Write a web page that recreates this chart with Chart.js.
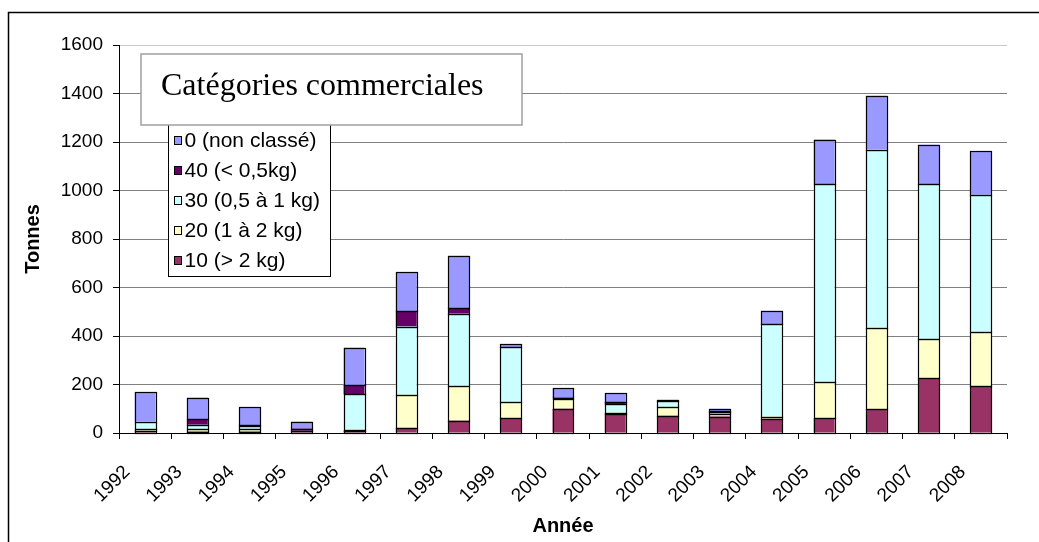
<!DOCTYPE html>
<html><head><meta charset="utf-8">
<script src="https://cdn.jsdelivr.net/npm/chart.js@4/dist/chart.umd.min.js"></script>
<style>html,body{margin:0;padding:0;background:#fff}canvas{display:block}</style>
</head><body>
<canvas id="c" width="1039" height="542"></canvas>
<script>
const years = ['1992','1993','1994','1995','1996','1997','1998','1999','2000','2001','2002','2003','2004','2005','2006','2007','2008'];
const cat10 = [7, 6, 6, 7, 8, 21, 51, 62, 100, 78, 71, 68, 58, 62, 99, 226, 192];
const cat20 = [10, 9, 10, 1, 6, 137, 144, 64, 39, 6, 36, 10, 10, 149, 336, 162, 226];
const cat30 = [30, 19, 14, 1, 146, 281, 297, 228, 5, 35, 27, 9, 380, 814, 734, 637, 564];
const cat40 = [0, 22, 1, 9, 38, 64, 22, 0, 2, 9, 1, 2, 0, 0, 0, 0, 0];
const cat0  = [122, 90, 75, 29, 154, 159, 217, 11, 38, 36, 2, 11, 56, 185, 222, 164, 181];
const seriesLabels = ['10 (> 2 kg)', '20 (1 à 2 kg)', '30 (0,5 à 1 kg)', '40 (< 0,5kg)', '0 (non classé)'];
const seriesColors = ['#993366', '#FFFFCC', '#CCFFFF', '#660066', '#9999FF'];
const yTicks = [0, 200, 400, 600, 800, 1000, 1200, 1400, 1600];
const chartTitle = 'Catégories commerciales';
const yTitle = 'Tonnes';
const xTitle = 'Année';

const seriesValues = [cat10, cat20, cat30, cat40, cat0];

const barOutline = {
  id: 'barOutline',
  afterDatasetsDraw(chart) {
    const ctx = chart.ctx;
    ctx.save();
    ctx.strokeStyle = '#000';
    ctx.lineWidth = 1.2;
    chart.data.datasets.forEach((d, i) => {
      const meta = chart.getDatasetMeta(i);
      meta.data.forEach((el, j) => {
        if (!d.data[j]) return;
        const p = el.getProps(['x', 'y', 'base', 'width'], true);
        const l = Math.round(p.x - p.width / 2) + 0.5;
        const r = Math.round(p.x + p.width / 2) + 0.5;
        const t = Math.round(Math.min(p.y, p.base)) + 0.5;
        const b = Math.round(Math.max(p.y, p.base)) + 0.5;
        ctx.strokeRect(l, t, r - l, b - t);
      });
    });
    ctx.restore();
  }
};

const decor = {
  id: 'decor',
  beforeDraw(chart) {
    const ctx = chart.ctx;
    ctx.save();
    ctx.fillStyle = '#fff';
    ctx.fillRect(0, 0, chart.width, chart.height);
    ctx.strokeStyle = '#000';
    ctx.lineWidth = 1.5;
    ctx.strokeRect(8.5, 12.5, chart.width + 50, chart.height + 50);
    ctx.restore();
  },
  afterDraw(chart) {
    const ctx = chart.ctx;
    ctx.save();
    // legend box
    ctx.fillStyle = '#fff';
    ctx.fillRect(168, 110, 162, 166);
    ctx.strokeStyle = '#000';
    ctx.lineWidth = 1;
    ctx.strokeRect(168.5, 110.5, 162, 166);
    const ds = chart.data.datasets;
    ctx.font = '21px "Liberation Sans", Arial, sans-serif';
    ctx.textBaseline = 'middle';
    ctx.textAlign = 'left';
    for (let i = 0; i < ds.length; i++) {
      const d = ds[ds.length - 1 - i];
      const cy = 140 + 30 * i;
      ctx.fillStyle = d.backgroundColor;
      ctx.fillRect(174.5, cy - 3.5, 7, 8);
      ctx.strokeStyle = '#000';
      ctx.strokeRect(174.5, cy - 3.5, 7, 8);
      ctx.fillStyle = '#000';
      ctx.fillText(d.label, 184.5, cy + 1);
    }
    // title box
    ctx.fillStyle = '#fff';
    ctx.fillRect(141, 54, 381, 71);
    ctx.strokeStyle = '#a0a0a0';
    ctx.lineWidth = 1.5;
    ctx.strokeRect(141, 54, 381, 71);
    ctx.fillStyle = '#000';
    ctx.font = '32px "Liberation Serif", "Times New Roman", serif';
    ctx.textBaseline = 'alphabetic';
    ctx.fillText(chartTitle, 161, 95);
    ctx.restore();
  }
};

new Chart(document.getElementById('c'), {
  type: 'bar',
  data: {
    labels: years,
    datasets: seriesLabels.map((l, i) => ({
      label: l,
      data: seriesValues[i],
      backgroundColor: seriesColors[i],
      borderWidth: 0,
      barPercentage: 0.4,
      categoryPercentage: 1.0
    }))
  },
  options: {
    responsive: false,
    animation: false,
    devicePixelRatio: 1,
    layout: { padding: { left: 0, top: 45, right: 32, bottom: 0 } },
    plugins: { legend: { display: false }, tooltip: { enabled: false } },
    scales: {
      x: {
        stacked: true,
        offset: true,
        grid: { offset: true, drawOnChartArea: false, drawTicks: true, tickLength: 6, color: '#000', tickColor: '#000' },
        border: { display: true, color: '#000', width: 1 },
        ticks: {
          autoSkip: false, minRotation: 45, maxRotation: 45,
          font: { family: '"Liberation Sans", Arial, sans-serif', size: 19 },
          color: '#000', padding: 22, labelOffset: -18
        },
        title: {
          display: true, text: xTitle, color: '#000',
          font: { family: '"Liberation Sans", Arial, sans-serif', size: 20, weight: 'bold' },
          padding: { top: 0, bottom: 4 }
        },
        afterFit(scale) { scale.height = 109; }
      },
      y: {
        stacked: true,
        min: 0, max: 1600,
        afterBuildTicks(scale) { scale.ticks = yTicks.map(v => ({ value: v })); },
        grid: {
          color: c => (c.tick && c.tick.value === 1600) ? '#c8c8c8' : '#808080',
          tickColor: '#000', tickLength: 6, drawTicks: true, lineWidth: 1
        },
        border: { display: true, color: '#000', width: 1 },
        ticks: {
          font: { family: '"Liberation Sans", Arial, sans-serif', size: 19 },
          color: '#000', padding: 10,
          callback: v => String(v)
        },
        title: {
          display: true, text: yTitle, color: '#000',
          font: { family: '"Liberation Sans", Arial, sans-serif', size: 20, weight: 'bold' },
          padding: { top: 21, bottom: 0 }
        },
        afterFit(scale) { scale.width = 119; }
      }
    }
  },
  plugins: [barOutline, decor]
});
</script>
</body></html>
